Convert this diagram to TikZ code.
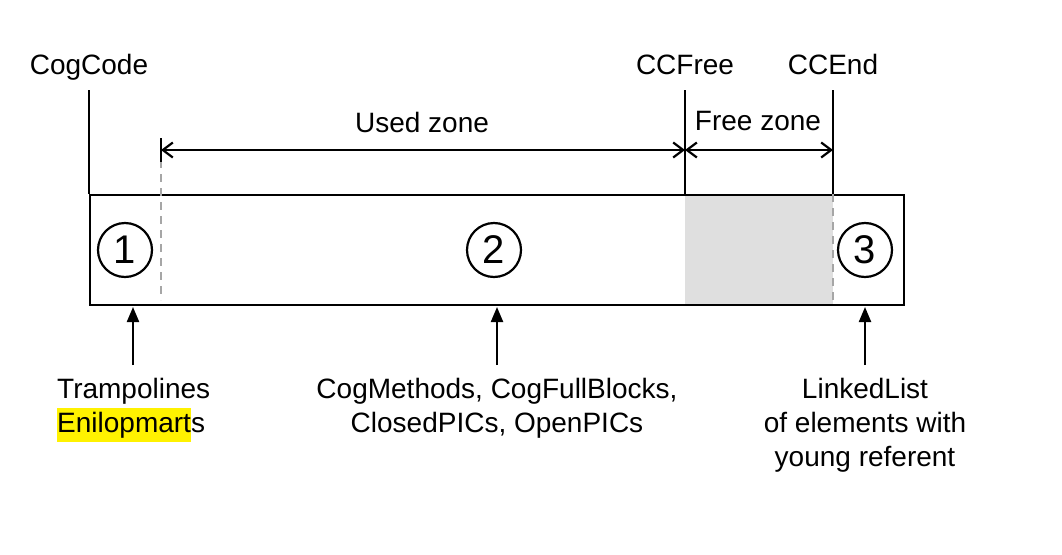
\documentclass[tikz,border=0pt]{standalone}
\usepackage{fontspec}
\setmainfont{Liberation Sans}
\usetikzlibrary{arrows.meta}
\tikzset{
  lbl/.style={font=\fontsize{28}{34}\selectfont, inner sep=0pt},
  bar/.style={line width=2.2pt, black},
  dim/.style={line width=2.2pt, {Straight Barb[length=10pt,width=15pt,line width=2.2pt]}-{Straight Barb[length=10pt,width=15pt,line width=2.2pt]}},
  up/.style={line width=2.2pt, -{Triangle[length=15pt,width=12pt]}},
  gdash/.style={line width=2.2pt, gray!70, dash pattern=on 8pt off 6pt},
  num/.style={circle, draw, line width=2.2pt, minimum size=54pt, inner sep=0pt, font=\fontsize{40}{40}\selectfont},
}
\begin{document}
\begin{tikzpicture}[x=1pt,y=-1pt]
\useasboundingbox (0,0) rectangle (1062,554);
% gray free zone
\fill[gray!25] (685,194) rectangle (833,304);
% box
\node[draw, line width=2.2pt, minimum width=814pt, minimum height=110pt, inner sep=0pt, anchor=north west] (box) at (89,194) {};
% dashed lines
\coordinate (d1t) at (161,160);
\coordinate (d1b) at (161,300);
\draw[gdash] (d1t) -- (d1b);
\coordinate (d3t) at (833,194);
\coordinate (d3b) at (833,304);
\draw[gdash] (d3t) -- (d3b);
% top labels
\node[lbl, anchor=base] (cogcode) at (89,74) {CogCode};
\node[lbl, anchor=base] (ccfree) at (685,74) {CCFree};
\node[lbl, anchor=base] (ccend) at (833,74) {CCEnd};
\coordinate (cc0) at (89,90);  \coordinate (cc1) at (89,194);
\coordinate (cf0) at (685,90); \coordinate (cf1) at (685,194);
\coordinate (ce0) at (833,90); \coordinate (ce1) at (833,194);
\draw[bar] (cc0) -- (cc1);
\draw[bar] (cf0) -- (cf1);
\draw[bar] (ce0) -- (ce1);
% tick at used-zone start
\coordinate (t0) at (161,138); \coordinate (t1) at (161,162);
\draw[bar] (t0) -- (t1);
% dimension arrows
\coordinate (u0) at (161,150); \coordinate (u1) at (685,150); \coordinate (u2) at (833,150);
\draw[dim] (u0) -- (u1);
\draw[dim] (u1) -- (u2);
\node[lbl, anchor=base] (used) at (422,132) {Used zone};
\node[lbl, anchor=base] (free) at (758,130) {Free zone};
% circled numbers
\node[num] (n1) at (125,250) {1};
\node[num] (n2) at (494,250) {2};
\node[num] (n3) at (865,250) {3};
% bottom labels
\node[lbl, align=left, anchor=west] (tramp) at (57,410) {Trampolines\\{\setlength\fboxsep{0pt}\colorbox{yellow}{\strut Enilopmart}}s};
\node[lbl, align=center] (meth) at (497,408) {CogMethods, CogFullBlocks,\\ClosedPICs, OpenPICs};
\node[lbl, align=center] (ll) at (865,425) {LinkedList\\of elements with\\young referent};
% up arrows
\coordinate (a1) at (133,365); \coordinate (b1) at (133,307);
\coordinate (a2) at (497,365); \coordinate (b2) at (497,307);
\coordinate (a3) at (865,365); \coordinate (b3) at (865,307);
\draw[up] (a1) -- (b1);
\draw[up] (a2) -- (b2);
\draw[up] (a3) -- (b3);
\end{tikzpicture}
\end{document}
